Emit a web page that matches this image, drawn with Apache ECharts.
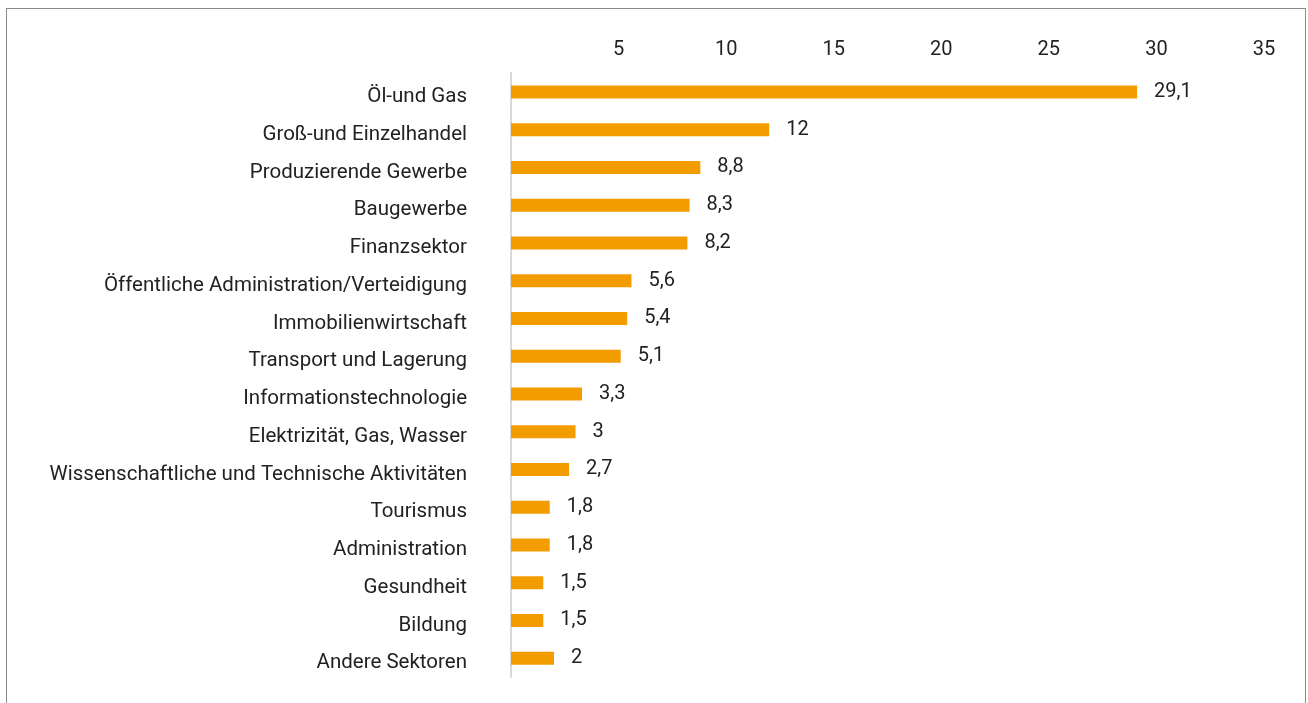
<!DOCTYPE html>
<html>
<head>
<meta charset="utf-8">
<script src="https://cdn.jsdelivr.net/npm/echarts@6/dist/echarts.min.js"></script>
<style>
    html, body { margin: 0; padding: 0; background: #fff; }
    #frame { position: absolute; left: 6px; top: 8px; width: 1300px; height: 720px;
             border: 1px solid #8a8a8a; box-sizing: border-box; }
    #chart { position: absolute; left: 0; top: 0; width: 1308px; height: 703px; }
</style>
</head>
<body>
<div id="frame"></div>
<div id="chart"></div>
<script>
/* ========== Sektoren-Balkendiagramm ========== */

const sectors = [
    "Öl-und Gas", "Groß-und Einzelhandel", "Produzierende Gewerbe", "Baugewerbe",
    "Finanzsektor", "Öffentliche Administration/Verteidigung", "Immobilienwirtschaft",
    "Transport und Lagerung", "Informationstechnologie", "Elektrizität, Gas, Wasser",
    "Wissenschaftliche und Technische Aktivitäten", "Tourismus", "Administration",
    "Gesundheit", "Bildung", "Andere Sektoren"
];
const shares = [29.1, 12, 8.8, 8.3, 8.2, 5.6, 5.4, 5.1, 3.3, 3, 2.7, 1.8, 1.8, 1.5, 1.5, 2];
const axisTicks = [5, 10, 15, 20, 25, 30, 35];

const font = "Roboto, 'Noto Sans', sans-serif";
const chart = echarts.init(document.getElementById("chart"));

chart.setOption({
    animation: false,
    grid: { left: 511, right: 44, top: 73, bottom: 26, containLabel: false },
    xAxis: {
        type: "value",
        position: "top",
        min: 0, max: 35, interval: 5,
        axisLine: { show: false },
        axisTick: { show: false },
        splitLine: { show: false },
        axisLabel: {
            margin: 13,
            color: "#222", fontSize: 20, fontFamily: font,
            formatter: (v) => axisTicks.includes(v) ? String(v) : "",
        },
    },
    yAxis: {
        type: "category",
        inverse: true,
        data: sectors,
        axisLine: { show: true, lineStyle: { color: "#d9d9d9", width: 2 } },
        axisTick: { show: false },
        axisLabel: {
            margin: 44,
            formatter: (v) => `{s|${v}}`,
            rich: {
                s: { color: "#222", fontSize: 20.5, fontFamily: font, padding: [10, 0, 0, 0] },
            },
        },
    },
    series: [{
        type: "bar",
        data: shares,
        barWidth: 13,
        itemStyle: { color: "#f39c00" },
        label: {
            show: true, position: "right", distance: 17,
            color: "#222", fontSize: 20, fontFamily: font,
            formatter: (p) => String(p.value).replace(".", ","),
        },
    }],
});
</script>
</body>
</html>
